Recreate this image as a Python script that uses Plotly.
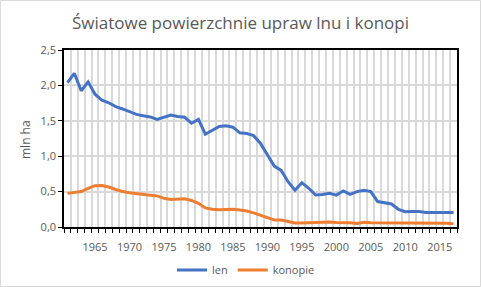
import plotly.graph_objects as go

years = list(range(1961, 2018))
len_vals = [2.04, 2.17, 1.925, 2.05, 1.875, 1.79, 1.755, 1.70, 1.667, 1.63,
            1.59, 1.57, 1.555, 1.52, 1.55, 1.58, 1.56, 1.55, 1.465, 1.52,
            1.31, 1.37, 1.42, 1.43, 1.41, 1.33, 1.32, 1.29, 1.18, 1.02,
            0.86, 0.80, 0.64, 0.52, 0.626, 0.547, 0.452, 0.46, 0.475, 0.45,
            0.51, 0.46, 0.50, 0.52, 0.50, 0.36, 0.34, 0.325, 0.25, 0.216,
            0.22, 0.22, 0.205, 0.205, 0.21, 0.215, 0.205]
konopie_vals = [0.475, 0.49, 0.50, 0.545, 0.583, 0.585, 0.565, 0.53, 0.50, 0.485,
                0.47, 0.46, 0.45, 0.44, 0.405, 0.39, 0.40, 0.40, 0.375, 0.335,
                0.27, 0.25, 0.245, 0.25, 0.25, 0.24, 0.226, 0.20, 0.165, 0.13,
                0.10, 0.10, 0.075, 0.056, 0.056, 0.06, 0.06, 0.065, 0.07, 0.065,
                0.065, 0.06, 0.05, 0.068, 0.06, 0.06, 0.06, 0.055, 0.05, 0.05,
                0.05, 0.05, 0.05, 0.05, 0.05, 0.052, 0.046]
xtick_vals = [1965, 1970, 1975, 1980, 1985, 1990, 1995, 2000, 2005, 2010, 2015]

W, H = 481, 287
ML, MR, MT, MB = 64, 24, 50, 60
PW, PH = W - ML - MR, H - MT - MB
font = "Open Sans"
gray = "#595959"

fig = go.Figure()
fig.add_trace(go.Scatter(x=years, y=len_vals, name="len", mode="lines",
                         line=dict(color="#4472C4", width=3)))
fig.add_trace(go.Scatter(x=years, y=konopie_vals, name="konopie", mode="lines",
                         line=dict(color="#ED7D31", width=3)))

fig.update_layout(
    width=W, height=H,
    margin=dict(l=ML, r=MR, t=MT, b=MB, autoexpand=False),
    paper_bgcolor="white", plot_bgcolor="white",
    separators=", ",
    font=dict(family=font, color=gray, size=11),
    title=dict(text="Światowe powierzchnie upraw lnu i konopi",
               x=0.5, xanchor="center", y=1 - 23 / H, yanchor="middle",
               font=dict(family=font, size=17, color=gray)),
    showlegend=True,
    legend=dict(orientation="h", x=(246 - ML) / PW, xanchor="center",
                xref="paper", y=(MT + PH - 270) / PH, yanchor="middle",
                font=dict(size=11, color=gray), itemwidth=30,
                bgcolor="rgba(0,0,0,0)"),
    xaxis=dict(range=[1960.5, 2017.5], tickmode="array", tickvals=xtick_vals,
               ticks="", showgrid=False, zeroline=False, ticklabelstandoff=9,
               showline=True, linecolor="black", linewidth=1.5, mirror=True,
               tickfont=dict(size=11, color=gray), automargin=False,
               minor=dict(tickmode="linear", tick0=1960.5, dtick=1,
                          ticks="outside", ticklen=4,
                          tickcolor="black", showgrid=True,
                          gridcolor="#d9d9d9", gridwidth=1.5)),
    yaxis=dict(range=[0, 2.5], dtick=0.5, tickformat=".1f",
               ticks="outside", ticklen=4, tickcolor="black",
               showgrid=True, gridcolor="#d9d9d9", gridwidth=1.5, zeroline=False,
               showline=True, linecolor="black", linewidth=1.5, mirror=True,
               tickfont=dict(size=11, color=gray), automargin=False),
    annotations=[dict(text="mln ha", xref="paper", yref="paper",
                      x=(25 - ML) / PW, y=(MT + PH - 140) / PH,
                      xanchor="center", yanchor="middle", textangle=-90,
                      showarrow=False, font=dict(size=12, color=gray))],
)
# chart-area border
fig.add_shape(type="rect", xref="paper", yref="paper", layer="below",
              x0=(0.5 - ML) / PW, x1=(W - 0.5 - ML) / PW,
              y0=-(MB - 0.5) / PH, y1=1 + (MT - 0.5) / PH,
              line=dict(color="#d9d9d9", width=1))
fig.write_html("out.html")
